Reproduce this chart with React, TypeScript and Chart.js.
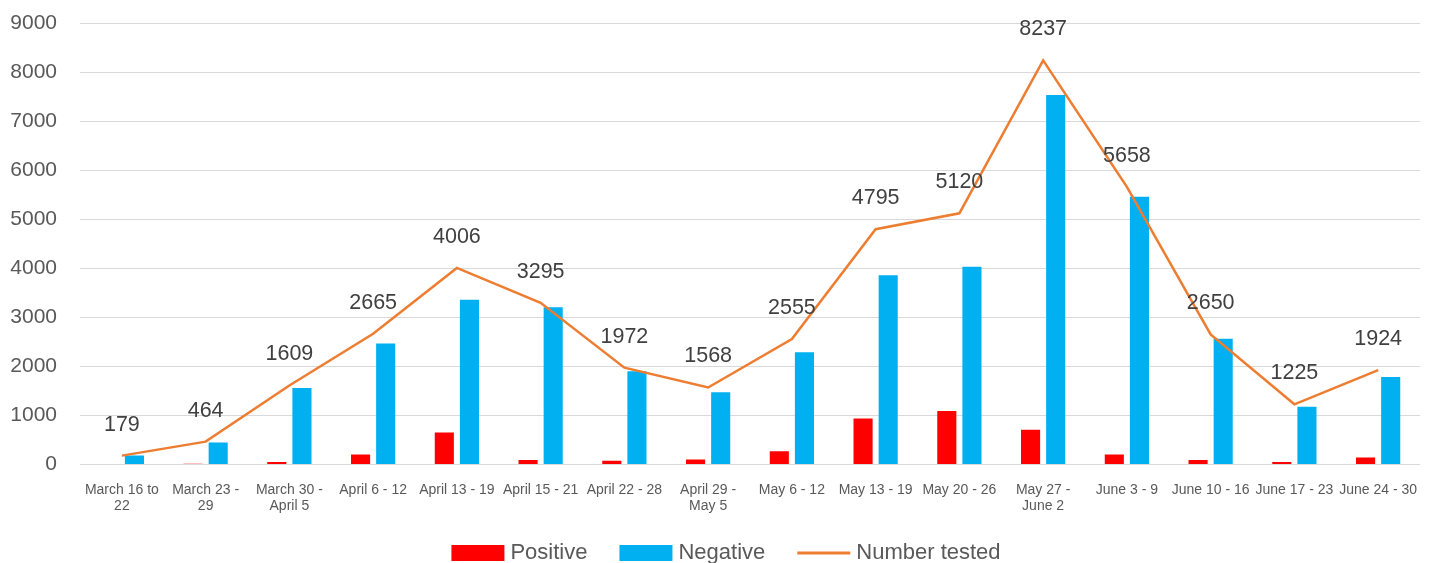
import React, { useEffect, useRef } from "react";
import { Chart, registerables } from "chart.js";

Chart.register(...registerables);

const categories: (string | string[])[] = [
  ["March 16 to", "22"],
  ["March 23 -", "29"],
  ["March 30 -", "April 5"],
  "April 6 - 12",
  "April 13 - 19",
  "April 15 - 21",
  "April 22 - 28",
  ["April 29 -", "May 5"],
  "May 6 - 12",
  "May 13 - 19",
  "May 20 - 26",
  ["May 27 -", "June 2"],
  "June 3 - 9",
  "June 10 - 16",
  "June 17 - 23",
  "June 24 - 30",
];

const positive = [0, 15, 50, 200, 650, 90, 74, 99, 270, 938, 1090, 707, 200, 90, 50, 140];
const negative = [179, 449, 1559, 2465, 3356, 3205, 1898, 1469, 2285, 3857, 4030, 7530, 5458, 2560, 1175, 1784];
const numberTested = [179, 464, 1609, 2665, 4006, 3295, 1972, 1568, 2555, 4795, 5120, 8237, 5658, 2650, 1225, 1924];

const yTicks = [0, 1000, 2000, 3000, 4000, 5000, 6000, 7000, 8000, 9000];

const FONT = "'Liberation Sans', Arial, sans-serif";

const lineLabels = {
  id: "lineLabels",
  afterDatasetsDraw(chart: any) {
    const meta = chart.getDatasetMeta(2);
    const ctx = chart.ctx;
    ctx.save();
    ctx.font = `21.5px ${FONT}`;
    ctx.fillStyle = "#404040";
    ctx.textAlign = "center";
    ctx.textBaseline = "middle";
    meta.data.forEach((pt: any, i: number) => {
      ctx.fillText(String(numberTested[i]), pt.x, pt.y - 31);
    });
    ctx.restore();
  },
};

const customLegend = {
  id: "customLegend",
  afterDraw(chart: any) {
    const ctx = chart.ctx;
    const datasets = chart.data.datasets;
    const boxW = 53;
    const boxH = 16;
    const gapText = 6;
    const gapItem = 32;
    const cy = 553;
    ctx.save();
    ctx.font = `22px ${FONT}`;
    const widths = datasets.map((d: any) => ctx.measureText(d.label).width);
    let total = 0;
    widths.forEach((w: number, i: number) => {
      total += boxW + gapText + w + (i < widths.length - 1 ? gapItem : 0);
    });
    let x = 726 - total / 2;
    datasets.forEach((d: any, i: number) => {
      if (d.type === "line") {
        ctx.strokeStyle = d.borderColor;
        ctx.lineWidth = 3;
        ctx.beginPath();
        ctx.moveTo(x, cy);
        ctx.lineTo(x + boxW, cy);
        ctx.stroke();
      } else {
        ctx.fillStyle = d.backgroundColor;
        ctx.fillRect(x, cy - boxH / 2, boxW, boxH);
      }
      x += boxW + gapText;
      ctx.fillStyle = "#595959";
      ctx.textAlign = "left";
      ctx.textBaseline = "middle";
      ctx.fillText(d.label, x, cy);
      x += widths[i] + gapItem;
    });
    ctx.restore();
  },
};

export default function App() {
  const ref = useRef<HTMLCanvasElement>(null);
  useEffect(() => {
    if (!ref.current) return;
    const chart = new Chart(ref.current, {
      type: "bar",
      data: {
        labels: categories,
        datasets: [
          {
            label: "Positive",
            data: positive,
            backgroundColor: "#FF0000",
            categoryPercentage: 0.6,
            barPercentage: 0.76,
            order: 1,
          },
          {
            label: "Negative",
            data: negative,
            backgroundColor: "#00B0F0",
            categoryPercentage: 0.6,
            barPercentage: 0.76,
            order: 2,
          },
          {
            type: "line",
            label: "Number tested",
            data: numberTested,
            borderColor: "#ED7D31",
            backgroundColor: "#ED7D31",
            borderWidth: 2.5,
            pointRadius: 0,
            tension: 0,
            order: 0,
          } as any,
        ],
      },
      options: {
        animation: false,
        responsive: true,
        maintainAspectRatio: false,
        layout: { padding: { top: 23, left: 10, right: 11, bottom: 31 } },
        plugins: {
          tooltip: { enabled: false },
          legend: { display: false },
        },
        scales: {
          x: {
            grid: { display: false, drawTicks: false },
            border: { display: false },
            afterFit: (axis: any) => {
              axis.paddingLeft = 0;
              axis.paddingRight = 0;
            },
            ticks: {
              color: "#595959",
              font: { family: FONT, size: 14 },
              padding: 17,
              maxRotation: 0,
              minRotation: 0,
              autoSkip: false,
            },
          },
          y: {
            min: 0,
            max: 9000,
            afterBuildTicks: (axis: any) => {
              axis.ticks = yTicks.map((v) => ({ value: v }));
            },
            afterFit: (axis: any) => {
              axis.width = 70;
              axis.paddingTop = 0;
              axis.paddingBottom = 0;
            },
            grid: { color: "#D9D9D9", lineWidth: 1, drawTicks: false },
            border: { display: false },
            ticks: {
              color: "#595959",
              font: { family: FONT, size: 21 },
              padding: 23,
              callback: (v: any) => String(v),
            },
          },
        },
      },
      plugins: [lineLabels, customLegend],
    });
    return () => chart.destroy();
  }, []);

  return (
    <div
      style={{
        position: "fixed",
        left: 0,
        top: 0,
        width: 1431,
        height: 563,
        overflow: "hidden",
        background: "#fff",
      }}
    >
      <div style={{ position: "relative", width: 1431, height: 563 }}>
        <canvas ref={ref} />
      </div>
    </div>
  );
}
